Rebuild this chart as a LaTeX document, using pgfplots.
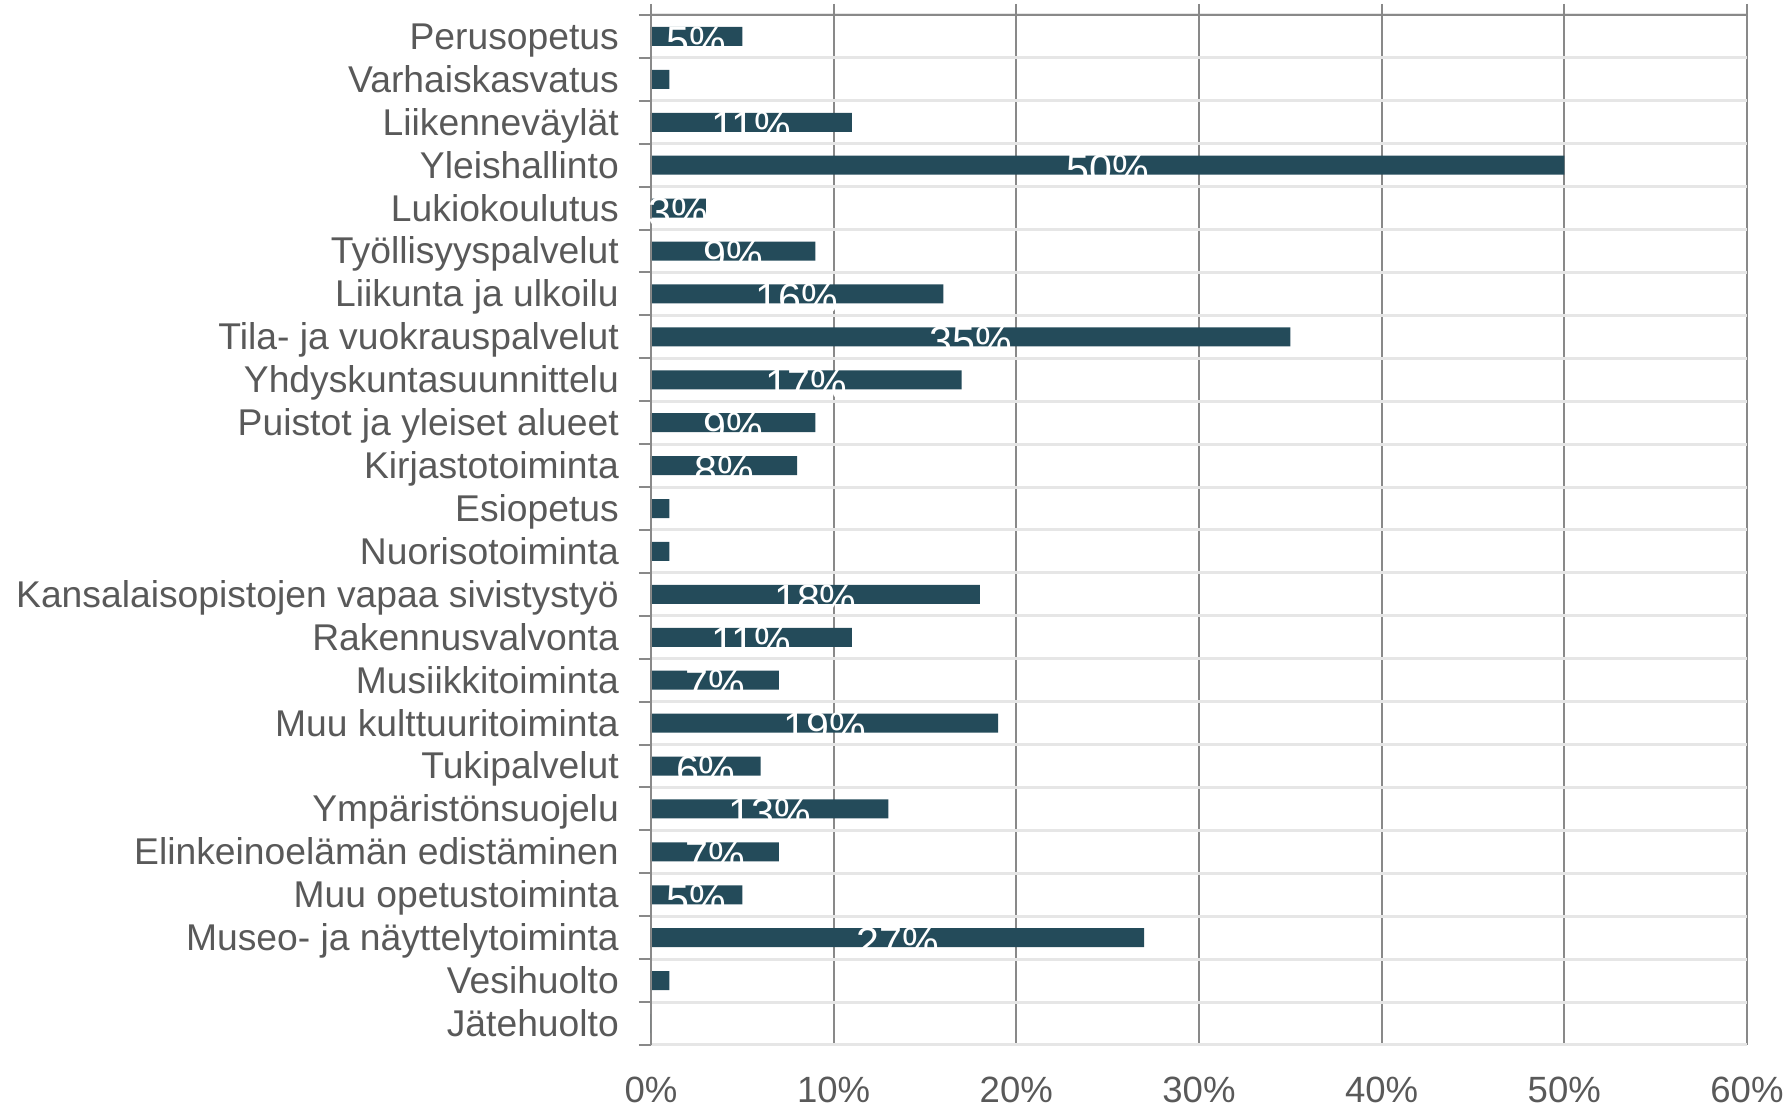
\documentclass[border=0pt]{standalone}
\usepackage{fontspec}
\setmainfont{Liberation Sans}
\usepackage{pgfplots}
\usepackage{pgfplotstable}
\pgfplotsset{compat=1.18}
\definecolor{barc}{RGB}{36,75,90}
\definecolor{txt}{RGB}{89,89,89}
\definecolor{gridd}{RGB}{137,137,137}
\definecolor{gridl}{RGB}{230,230,230}
\pgfplotstableread{
idx v
0 5
1 1
2 11
3 50
4 3
5 9
6 16
7 35
8 17
9 9
10 8
11 1
12 1
13 18
14 11
15 7
16 19
17 6
18 13
19 7
20 5
21 27
22 1
23 0
}\data
\pgfplotstableread{
idx v
0 5
2 11
3 50
4 3
5 9
6 16
7 35
8 17
9 9
10 8
13 18
14 11
15 7
16 19
17 6
18 13
19 7
20 5
21 27
}\lbls
\begin{document}
\begin{tikzpicture}
\begin{axis}[
  scale only axis,
  width=10.96cm, height=10.30cm,
  xmin=0, xmax=60,
  ymin=-0.5, ymax=23.5,
  y dir=reverse,
  axis line style={draw=none},
  xtick={0,10,...,60},
  xticklabel={\pgfmathprintnumber{\tick}\%},
  /pgf/number format/assume math mode=true,
  xtick pos=right, xticklabel pos=left,
  tick align=outside,
  major tick length=1.1mm,
  minor tick length=1.2mm,
  every major x tick/.style={draw=gridd, line width=0.2mm},
  every major y tick/.style={draw=none},
  every minor y tick/.style={draw=gridd, line width=0.2mm},
  ytick pos=left,
  xmajorgrids,
  major x grid style={draw=gridd, line width=0.2mm},
  ytick={0,...,23},
  minor ytick={-0.5,0.5,...,23.5},
  yminorgrids, ymajorgrids=false,
  minor y grid style={draw=gridl, line width=0.3mm},
  yticklabels={Perusopetus,Varhaiskasvatus,Liikenneväylät,Yleishallinto,Lukiokoulutus,Työllisyyspalvelut,Liikunta ja ulkoilu,Tila- ja vuokrauspalvelut,Yhdyskuntasuunnittelu,Puistot ja yleiset alueet,Kirjastotoiminta,Esiopetus,Nuorisotoiminta,Kansalaisopistojen vapaa sivistystyö,Rakennusvalvonta,Musiikkitoiminta,Muu kulttuuritoiminta,Tukipalvelut,Ympäristönsuojelu,Elinkeinoelämän edistäminen,Muu opetustoiminta,Museo- ja näyttelytoiminta,Vesihuolto,Jätehuolto},
  yticklabel style={font=\fontsize{10.6}{12}\selectfont, text=txt, inner sep=0pt, anchor=east, xshift=-2.05mm, yshift=-0.45mm},
  xticklabel style={font=\fontsize{10.4}{12}\selectfont, text=txt, inner sep=0pt, anchor=north, yshift=-2.05mm},
  typeset ticklabels with strut,
  bar width=1.9mm,
]
\addplot[xbar, bar shift=0pt, fill=barc, draw=none] table[x=v, y=idx] {\data};
\addplot[xbar, bar shift=0pt, fill=none, draw=none,
  point meta=\thisrow{v},
  nodes near coords={\pgfmathprintnumber{\pgfplotspointmeta}\%},
  every node near coord/.style={anchor=center, text=white, inner sep=0pt,
    font=\fontsize{11.7}{12}\selectfont, yshift=-0.45mm}]
  table[x expr=\thisrow{v}/2, y=idx] {\lbls};
\draw[gridd, line width=0.2mm] (axis description cs:0,0) -- (axis description cs:0,1);
\draw[gridd, line width=0.25mm] ([xshift=-1.2mm]axis description cs:0,1) -- (axis description cs:1,1);
\end{axis}
\path (current axis.south west) ++(-6.51cm,-0.62cm) rectangle (current axis.north east) ++(0.43cm,0.15cm);
\end{tikzpicture}
\end{document}
